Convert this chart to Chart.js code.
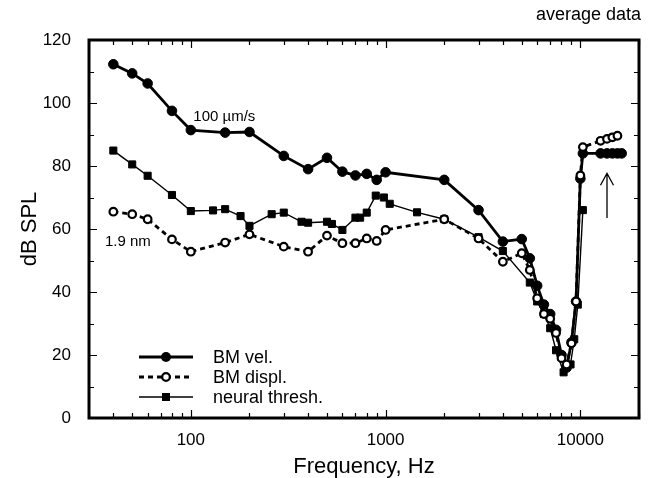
<!DOCTYPE html>
<html>
<head>
<meta charset="utf-8">
<script src="https://cdn.jsdelivr.net/npm/chart.js@4/dist/chart.umd.min.js"></script>
<style>
  html, body { margin: 0; padding: 0; background: #fff; }
  #wrap { width: 653px; height: 478px; }
</style>
</head>
<body>
<div id="wrap"><canvas id="chart" width="653" height="478"></canvas></div>
<script>
    "use strict";

    // BM velocity (filled circles, thick line)
    const velFreq = [40, 50, 60, 80, 100, 150, 200, 300, 400, 500, 600, 700, 800, 900, 1000,
        2000, 3000, 4000, 5000, 5500, 6000, 6500, 7000, 7500, 8000, 8500, 9000, 9500, 10000,
        10300, 12700, 13700, 14600, 15500, 16300];
    const velDb = [112.3, 109.4, 106.2, 97.5, 91.4, 90.6, 90.8, 83.2, 79.0, 82.6, 78.2, 77.0, 77.5, 75.6, 78.0,
        75.6, 66.0, 56.0, 56.8, 50.7, 42, 36, 33, 28, 20, 16, 24, 37, 76,
        84, 84, 84, 84, 84, 84];

    // BM displacement (open circles, dashed)
    const displFreq = [40, 50, 60, 80, 100, 150, 200, 300, 400, 500, 600, 700, 800, 900, 1000,
        2000, 3000, 4000, 5000, 5500, 6000, 6500, 7000, 7500, 8000, 8500, 9000, 9500, 10000,
        10300, 12700, 13700, 14600, 15500];
    const displDb = [65.5, 64.7, 63.1, 56.7, 52.8, 55.7, 58.3, 54.4, 52.8, 57.9, 55.5, 55.5, 57.0, 56.2, 59.7,
        63.1, 57.0, 49.6, 52.3, 47, 38, 33, 31.5, 27, 19, 17, 23.7, 37, 77,
        86, 88, 88.6, 89.1, 89.6];

    // neural threshold (filled squares, thin line)
    const neuralFreq = [40, 50, 60, 80, 100, 130, 150, 180, 200, 260, 300, 370, 400, 500, 530, 600, 700, 740, 800,
        890, 980, 1050, 1450, 2000, 3000, 4000, 5500, 6000, 6500, 7000, 7500, 8200, 8900, 9300, 9700, 10300];
    const neuralDb = [84.9, 80.5, 76.9, 70.8, 65.7, 65.9, 66.3, 64.1, 61.0, 64.7, 65.2, 62.3, 62.0, 62.3, 61.6, 59.7, 63.6, 63.6, 65.2,
        70.6, 70.0, 68.0, 65.3, 63.1, 57.4, 53.0, 43, 37, 33, 28.5, 21.5, 14.5, 17, 25, 36, 66];

    const xLabels = [100, 1000, 10000];
    const yTicks = [0, 20, 40, 60, 80, 100, 120];

    const FONT = "'Liberation Sans', Arial, Helvetica, sans-serif";

    function pts(xs, ys) {
        return xs.map((x, i) => ({ x, y: ys[i] }));
    }

    // frame, inward ticks on all sides, legend, annotations
    const decor = {
        id: "decor",
        afterDatasetsDraw(chart) {
            const { ctx, chartArea: a, scales: { x, y } } = chart;
            ctx.save();
            ctx.strokeStyle = "#000";
            ctx.fillStyle = "#000";

            // ticks
            ctx.lineWidth = 1.2;
            ctx.beginPath();
            for (let v = 0; v <= 120; v += 10) {
                const py = Math.round(y.getPixelForValue(v)) + 0.5;
                const len = v % 20 === 0 ? 8 : 5;
                ctx.moveTo(a.left, py); ctx.lineTo(a.left + len, py);
                ctx.moveTo(a.right, py); ctx.lineTo(a.right - len, py);
            }
            for (let dec = 10; dec <= 10000; dec *= 10) {
                for (let m = 1; m <= 9; m++) {
                    const f = dec * m;
                    if (f < 30 || f > 20000) continue;
                    const px = Math.round(x.getPixelForValue(f)) + 0.5;
                    const len = m === 1 ? 8 : 5;
                    ctx.moveTo(px, a.bottom); ctx.lineTo(px, a.bottom - len);
                    ctx.moveTo(px, a.top); ctx.lineTo(px, a.top + len);
                }
            }
            ctx.stroke();

            // frame
            ctx.lineWidth = 3;
            ctx.strokeRect(a.left, a.top, a.right - a.left, a.bottom - a.top);

            // annotations
            ctx.font = "15px " + FONT;
            ctx.textBaseline = "middle";
            ctx.textAlign = "left";
            ctx.fillText("100 \u00b5m/s", x.getPixelForValue(103), y.getPixelForValue(95.6));
            ctx.fillText("1.9 nm", x.getPixelForValue(36.2), y.getPixelForValue(56));

            // arrow
            const ax = x.getPixelForValue(13700);
            const ayTop = y.getPixelForValue(77.7);
            const ayBot = y.getPixelForValue(63.5);
            ctx.lineWidth = 1.3;
            ctx.beginPath();
            ctx.moveTo(ax, ayBot); ctx.lineTo(ax, ayTop);
            ctx.moveTo(ax - 6.5, ayTop + 12); ctx.lineTo(ax, ayTop); ctx.lineTo(ax + 6.5, ayTop + 12);
            ctx.stroke();

            // legend
            const rows = [
                { label: "BM vel.", y: 357, width: 2.8, dash: [], kind: "dot" },
                { label: "BM displ.", y: 377, width: 2.8, dash: [5, 4], kind: "open" },
                { label: "neural thresh.", y: 397, width: 1.4, dash: [], kind: "square" },
            ];
            ctx.font = "18px " + FONT;
            rows.forEach(r => {
                ctx.lineWidth = r.width;
                ctx.setLineDash(r.dash);
                ctx.beginPath();
                ctx.moveTo(139, r.y); ctx.lineTo(193, r.y);
                ctx.stroke();
                ctx.setLineDash([]);
                if (r.kind === "dot") {
                    ctx.beginPath(); ctx.arc(166, r.y, 5, 0, Math.PI * 2); ctx.fill();
                } else if (r.kind === "open") {
                    ctx.lineWidth = 2.2;
                    ctx.beginPath(); ctx.arc(166, r.y, 3.8, 0, Math.PI * 2);
                    ctx.fillStyle = "#fff"; ctx.fill(); ctx.fillStyle = "#000"; ctx.stroke();
                } else {
                    ctx.fillRect(162, r.y - 4, 8, 8);
                }
                ctx.fillText(r.label, 213, r.y + 1);
            });

            // corner note
            ctx.textAlign = "right";
            ctx.fillText("average data", 641, 15);
            ctx.restore();
        },
    };

    new Chart(document.getElementById("chart"), {
        type: "line",
        data: {
            datasets: [
                {
                    label: "BM displ.", data: pts(displFreq, displDb), order: 0,
                    borderColor: "#000", borderWidth: 2.8, borderDash: [5, 4],
                    pointStyle: "circle", pointRadius: 3.8, pointBorderWidth: 2.2,
                    pointBackgroundColor: "#fff", pointBorderColor: "#000", tension: 0,
                },
                {
                    label: "BM vel.", data: pts(velFreq, velDb), order: 1,
                    borderColor: "#000", borderWidth: 2.8,
                    pointStyle: "circle", pointRadius: 4.8, pointBorderWidth: 1,
                    pointBackgroundColor: "#000", pointBorderColor: "#000", tension: 0,
                },
                {
                    label: "neural thresh.", data: pts(neuralFreq, neuralDb), order: 2,
                    borderColor: "#000", borderWidth: 1.4,
                    pointStyle: "rect", pointRadius: 5, pointBorderWidth: 1,
                    pointBackgroundColor: "#000", pointBorderColor: "#000", tension: 0,
                },
            ],
        },
        options: {
            responsive: false,
            animation: false,
            layout: { padding: { top: 40, right: 14, left: 0, bottom: 0 } },
            plugins: { legend: { display: false }, tooltip: { enabled: false } },
            scales: {
                x: {
                    type: "logarithmic", min: 30, max: 20000,
                    grid: { display: false, drawTicks: false },
                    border: { display: false },
                    afterFit(scale) { scale.height = 60; },
                    ticks: {
                        autoSkip: false, maxRotation: 0, padding: 12, color: "#000",
                        font: { family: FONT, size: 17 },
                        callback: v => xLabels.includes(v) ? String(v) : "",
                    },
                    title: {
                        display: true, text: "Frequency, Hz", color: "#000",
                        font: { family: FONT, size: 22, lineHeight: 1 }, padding: { top: 0, bottom: 0 },
                    },
                },
                y: {
                    min: 0, max: 120,
                    grid: { display: false, drawTicks: false },
                    border: { display: false },
                    afterFit(scale) { scale.width = 89; },
                    afterBuildTicks(scale) { scale.ticks = yTicks.map(v => ({ value: v })); },
                    ticks: {
                        padding: 18, color: "#000",
                        font: { family: FONT, size: 17 },
                    },
                    title: {
                        display: true, text: "dB SPL", color: "#000",
                        font: { family: FONT, size: 22, lineHeight: 1 }, padding: { top: 19, bottom: 0 },
                    },
                },
            },
        },
        plugins: [decor],
    });
</script>
</body>
</html>
